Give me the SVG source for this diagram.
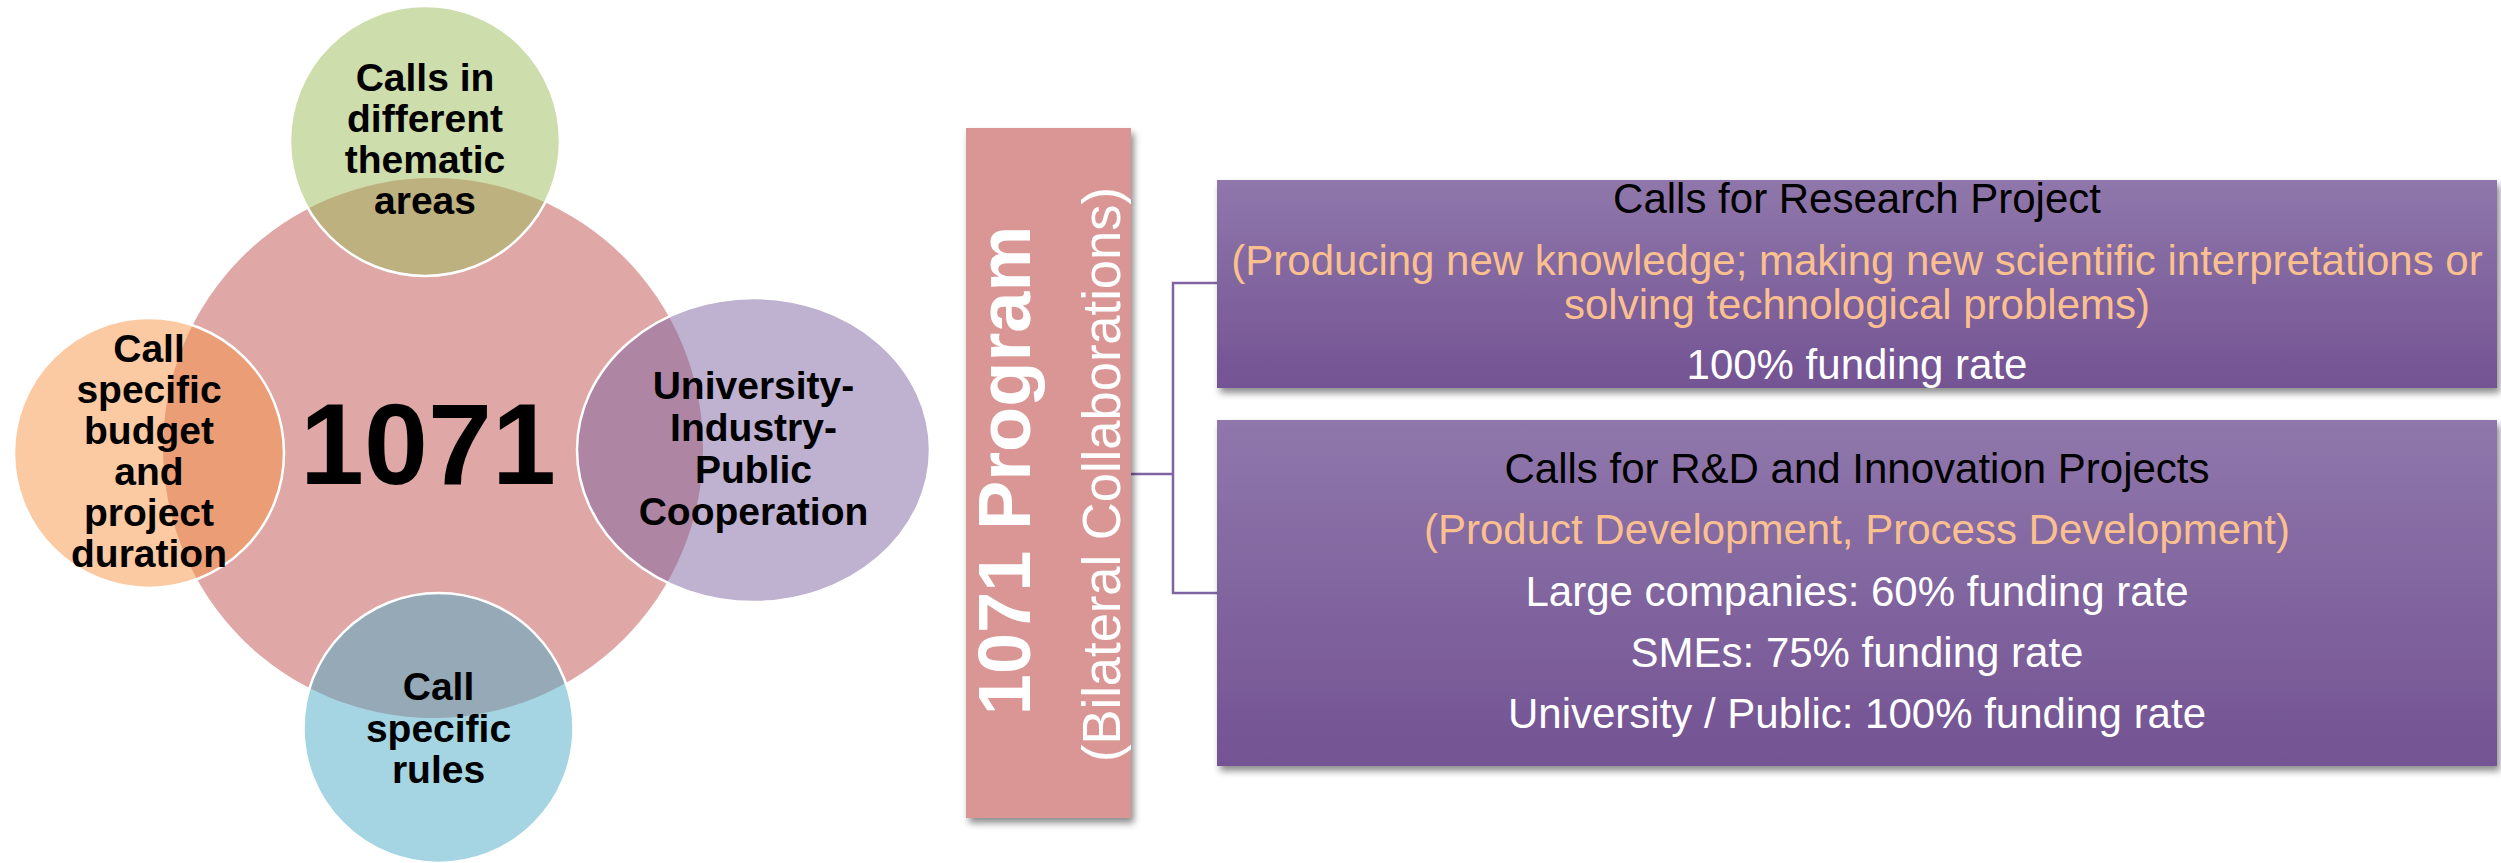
<svg xmlns="http://www.w3.org/2000/svg" width="2501" height="863" viewBox="0 0 2501 863">
<style>
.sat{stroke:#ffffff;stroke-width:2.5;fill-opacity:0.5}
.bt{font-family:"Liberation Sans",Arial,sans-serif;font-weight:bold;font-size:39px;fill:#000;text-anchor:middle}
.bx{font-family:"Liberation Sans",Arial,sans-serif;font-size:42px;text-anchor:middle}
.blk{fill:#000}
.org{fill:#fac08f}
.wht{fill:#ffffff}
.conn{fill:none;stroke:#8064a2;stroke-width:2.5}
</style>
<defs>
<linearGradient id="pg" x1="0" y1="0" x2="0" y2="1">
<stop offset="0" stop-color="#8f77ab"/>
<stop offset="1" stop-color="#735393"/>
</linearGradient>
<filter id="sh" x="-5%" y="-5%" width="112%" height="120%">
<feDropShadow dx="3" dy="5" stdDeviation="3.5" flood-color="#000" flood-opacity="0.45"/>
</filter>
</defs>
<rect width="2501" height="863" fill="#ffffff"/>

<g id="center-1071">
<circle cx="433" cy="448" r="270" fill="#c0504d" fill-opacity="0.5"/>
<text x="428" y="484" style="font-family:'Liberation Sans',Arial,sans-serif;font-weight:bold;font-size:115px;text-anchor:middle;fill:#000">1071</text>
</g>

<g id="node-thematic">
<circle class="sat" cx="425" cy="141" r="135" fill="#9bbb59"/>
<text class="bt" x="425" y="91">Calls in</text>
<text class="bt" x="425" y="132">different</text>
<text class="bt" x="425" y="173">thematic</text>
<text class="bt" x="425" y="214">areas</text>
</g>

<g id="node-cooperation">
<ellipse class="sat" cx="753.5" cy="450" rx="176.5" ry="152" fill="#8064a2"/>
<text class="bt" x="753.5" y="399">University-</text>
<text class="bt" x="753.5" y="441">Industry-</text>
<text class="bt" x="753.5" y="483">Public</text>
<text class="bt" x="753.5" y="525">Cooperation</text>
</g>

<g id="node-rules">
<circle class="sat" cx="438.5" cy="728" r="135" fill="#4bacc6"/>
<text class="bt" x="438.5" y="700">Call</text>
<text class="bt" x="438.5" y="742">specific</text>
<text class="bt" x="438.5" y="783">rules</text>
</g>

<g id="node-budget">
<circle class="sat" cx="149" cy="453" r="135" fill="#f79646"/>
<text class="bt" x="149" y="362">Call</text>
<text class="bt" x="149" y="403">specific</text>
<text class="bt" x="149" y="444">budget</text>
<text class="bt" x="149" y="485">and</text>
<text class="bt" x="149" y="526">project</text>
<text class="bt" x="149" y="567">duration</text>
</g>

<g id="connectors">
<path class="conn" d="M1131,474 H1173 M1217,283 H1173 V593 H1217"/>
</g>

<g id="node-program">
<rect x="966" y="128" width="165" height="690" fill="#d99694" filter="url(#sh)"/>
<text transform="translate(1030,470.5) rotate(-90)" style="font-family:'Liberation Sans',Arial,sans-serif;font-weight:bold;font-size:74px;text-anchor:middle;fill:#fff">1071 Program</text>
<text transform="translate(1120,474.5) rotate(-90)" textLength="575" lengthAdjust="spacingAndGlyphs" style="font-family:'Liberation Sans',Arial,sans-serif;font-size:54px;text-anchor:middle;fill:#fff">(Bilateral Collaborations)</text>
</g>

<g id="node-research">
<rect x="1217" y="180" width="1280" height="208" fill="url(#pg)" filter="url(#sh)"/>
<text class="bx blk" x="1857" y="213">Calls for Research Project</text>
<text class="bx org" x="1857" y="275">(Producing new knowledge; making new scientific interpretations or</text>
<text class="bx org" x="1857" y="319">solving technological problems)</text>
<text class="bx wht" x="1857" y="379">100% funding rate</text>
</g>

<g id="node-rdi">
<rect x="1217" y="420" width="1280" height="346" fill="url(#pg)" filter="url(#sh)"/>
<text class="bx blk" x="1857" y="483">Calls for R&amp;D and Innovation Projects</text>
<text class="bx org" x="1857" y="544">(Product Development, Process Development)</text>
<text class="bx wht" x="1857" y="606">Large companies: 60% funding rate</text>
<text class="bx wht" x="1857" y="667">SMEs: 75% funding rate</text>
<text class="bx wht" x="1857" y="728">University / Public: 100% funding rate</text>
</g>
</svg>
